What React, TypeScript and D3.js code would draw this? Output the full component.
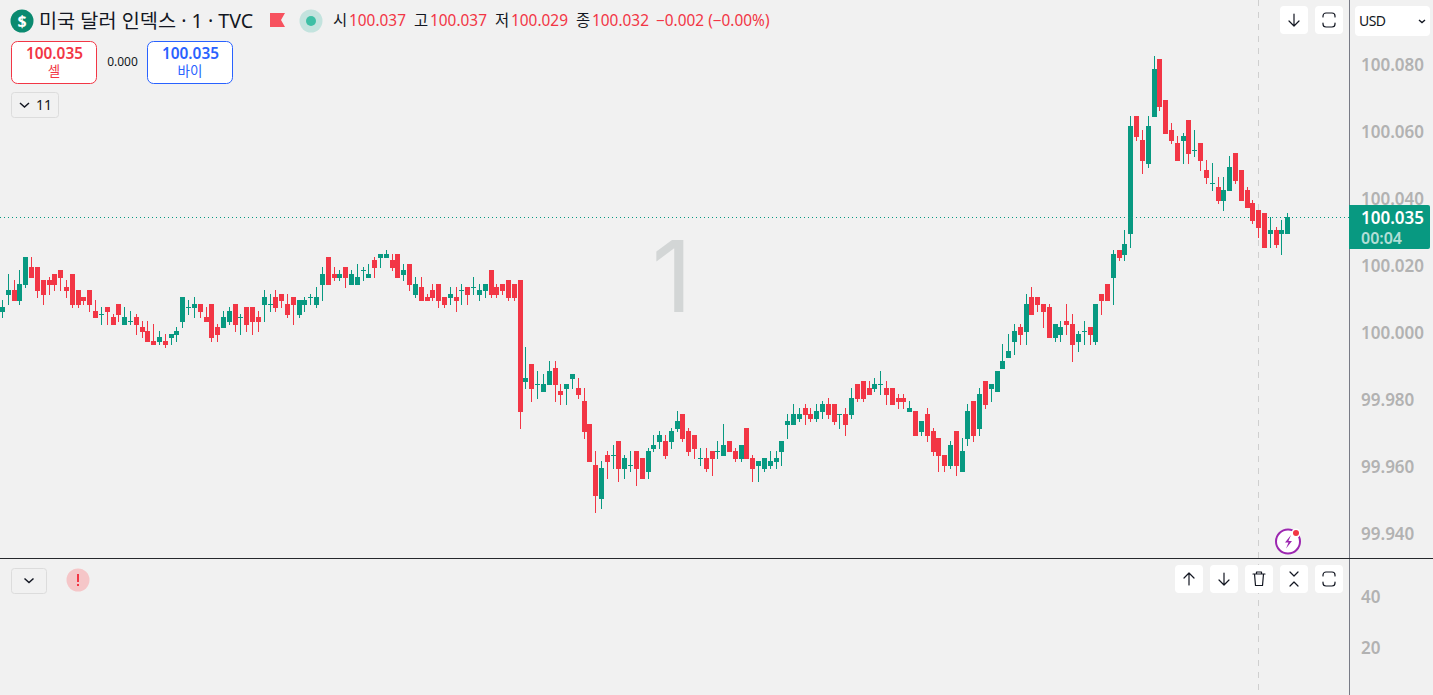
import * as d3 from 'd3';

const VW = 1433;
const VH = 695;
const PANE_RIGHT = 1349;
const PANE_BOTTOM = 558;

const BG = '#f1f1f1';
const UP = '#089981';
const DOWN = '#f23645';
const BLUE = '#2962ff';
const AXIS_TEXT = '#b2b2b2';
const INK = '#131722';
const FONT = "'Noto Sans', 'Noto Sans CJK KR', sans-serif";

// quotes in thousandths above 100 (so 35 = 100.035)
const OPENS = [
  7, 12, 13, 10, 15, 20, 20, 16, 16, 18, 19, 14, 18, 13, 11, 13, 7, 6, 8, 5,
  9, 3, 4, 5, 2, 1, -2, -2, -2, -1, 0, 4, 8, 8, 9, 5, 9, 2, 2, 4,
  9, 5, 8, 8, 5, 9, 9, 11, 12, 9, 11, 6, 9, 11, 9, 15, 23, 18, 17, 20,
  15, 15, 19, 17, 22, 23, 23, 22, 24, 18, 21, 12, 14, 11, 13, 15, 11, 11, 11, 13,
  14, 14, 12, 13, 19, 14, 15, 16, 15, 16, -14, -9, -15, -17, -15, -10, -17, -16, -13, -16,
  -20, -27, -39, -49, -36, -36, -32, -40, -39, -35, -37, -41, -34, -32, -32, -32, -28, -24, -29, -30,
  -37, -37, -35, -35, -36, -32, -35, -37, -28, -37, -39, -40, -39, -38, -35, -27, -27, -25, -22, -24,
  -25, -23, -21, -21, -24, -24, -24, -15, -14, -16, -16, -15, -16, -16, -19, -19, -23, -23, -29, -24,
  -29, -31, -36, -39, -29, -41, -31, -20, -28, -14, -16, -17, -10, -7, -2, 2, 1, 11, 11, 9,
  8, -1, 0, 4, 3, -2, 1, 2, -2, 12, 15, 17, 25, 24, 30, 65, 58, 51, 65, 82,
  70, 61, 57, 58, 64, 55, 57, 49, 45, 44, 40, 43, 54, 49, 43, 39, 37, 36, 30, 31,
  30, 30,
];
const HIGHS = [
  10, 18, 16, 19, 23, 23, 20, 16, 17, 18, 19, 16, 18, 13, 11, 13, 10, 8, 8, 6,
  9, 8, 7, 6, 4, 4, 3, 1, 0, 0, 2, 11, 10, 11, 9, 8, 9, 3, 7, 8,
  9, 6, 8, 8, 7, 13, 12, 13, 12, 12, 11, 10, 11, 12, 14, 20, 23, 20, 19, 20,
  19, 21, 20, 21, 23, 24, 25, 24, 24, 21, 21, 17, 17, 12, 15, 15, 11, 14, 14, 15,
  14, 17, 15, 15, 19, 15, 15, 16, 15, 16, -4, -9, -11, -12, -8, -8, -15, -15, -12, -13,
  -16, -27, -35, -38, -35, -33, -32, -36, -35, -35, -37, -34, -30, -29, -30, -28, -23, -24, -28, -30,
  -34, -34, -35, -32, -27, -32, -34, -33, -28, -36, -38, -37, -35, -35, -32, -24, -21, -22, -21, -22,
  -21, -20, -19, -21, -24, -22, -16, -15, -14, -14, -13, -11, -14, -16, -18, -18, -20, -23, -26, -22,
  -28, -31, -36, -32, -29, -31, -21, -20, -16, -14, -15, -11, -3, 0, 3, 3, 12, 14, 11, 9,
  9, 3, 4, 9, 6, 1, 4, 2, 9, 12, 15, 25, 25, 31, 65, 65, 61, 65, 83, 82,
  70, 63, 59, 60, 64, 61, 57, 52, 51, 47, 47, 53, 54, 49, 44, 40, 37, 36, 35, 32,
  34, 36,
];
const LOWS = [
  5, 9, 10, 9, 14, 17, 11, 9, 12, 13, 13, 11, 8, 8, 9, 7, 5, 3, 3, 3,
  4, 3, 3, 0, -1, -2, -3, -3, -4, -3, -2, 2, 6, 5, 5, 4, -2, -2, 2, 3,
  1, 0, 1, 0, 1, 4, 7, 7, 8, 5, 3, 5, 7, 9, 8, 10, 15, 16, 16, 14,
  15, 15, 16, 17, 17, 20, 23, 19, 17, 16, 13, 11, 10, 10, 10, 8, 8, 9, 7, 9,
  9, 12, 10, 11, 11, 11, 12, 10, 10, -28, -16, -20, -19, -17, -15, -20, -21, -21, -16, -19,
  -31, -38, -53, -52, -43, -40, -44, -43, -41, -45, -43, -43, -35, -34, -37, -34, -29, -32, -36, -37,
  -39, -41, -42, -37, -36, -35, -38, -38, -37, -44, -44, -41, -40, -40, -39, -31, -27, -26, -27, -26,
  -26, -25, -25, -27, -28, -30, -25, -20, -20, -18, -17, -18, -21, -21, -22, -22, -23, -30, -30, -32,
  -36, -41, -41, -40, -42, -41, -33, -32, -30, -22, -20, -17, -10, -7, -6, -3, -3, 6, 7, 2,
  -1, -2, -2, 0, -8, -5, -3, -3, -3, 6, 10, 9, 22, 22, 26, 58, 48, 50, 65, 67,
  60, 57, 52, 51, 51, 53, 49, 45, 43, 39, 37, 43, 45, 40, 38, 33, 29, 26, 26, 26,
  24, 30,
];
const CLOSES = [
  8, 13, 10, 15, 23, 17, 13, 12, 15, 15, 17, 13, 9, 9, 10, 9, 5, 6, 7, 3,
  6, 5, 4, 3, 1, -2, -3, -1, -3, 0, 1, 11, 8, 9, 7, 4, -1, 0, 5, 7,
  3, 5, 3, 4, 4, 11, 9, 8, 10, 6, 9, 10, 10, 11, 11, 18, 15, 17, 18, 17,
  18, 17, 19, 18, 20, 24, 24, 20, 17, 19, 15, 15, 10, 10, 11, 10, 9, 12, 10, 13,
  12, 14, 13, 15, 12, 12, 13, 11, 11, -23, -13, -16, -15, -15, -11, -15, -18, -15, -12, -18,
  -29, -38, -48, -40, -38, -36, -40, -37, -39, -40, -43, -35, -33, -30, -36, -29, -26, -31, -35, -34,
  -37, -40, -37, -35, -33, -35, -37, -33, -37, -40, -38, -37, -38, -37, -32, -26, -24, -24, -24, -25,
  -23, -21, -24, -26, -24, -27, -19, -19, -19, -18, -15, -15, -18, -21, -20, -20, -22, -30, -26, -30,
  -35, -36, -39, -33, -39, -35, -23, -30, -18, -21, -15, -11, -8, -5, 1, 0, 9, 6, 9, 7,
  -1, 3, 2, 3, -3, 0, 1, 0, 9, 10, 10, 24, 23, 27, 62, 59, 52, 62, 79, 68,
  60, 58, 52, 59, 54, 55, 52, 47, 45, 40, 43, 50, 46, 40, 38, 34, 32, 26, 31, 27,
  31, 35,
];

const PRICE_TICKS = [100.08, 100.06, 100.04, 100.02, 100.0, 99.98, 99.96, 99.94];
const LOWER_TICKS = [40, 20];
const LAST_PRICE = 100.035;
const HOVER_INDEX = 216;

const OHLC_LABELS = ['시', '고', '저', '종'];
const OHLC_VALUES = ['100.037', '100.037', '100.029', '100.032'];
const OHLC_LABEL_X = [333, 414, 495, 576];

const xScale = d3.scaleLinear().domain([0, OPENS.length - 1]).range([2, 1287.3]);
const yScale = d3.scaleLinear().domain([100, 100.08]).range([334, 66]);
const yLower = d3.scaleLinear().domain([20, 40]).range([648, 597]);
const fmtPrice = d3.format('.3f');

const price = (v: number) => 100 + v / 1000;
const px = (v: number) => Math.round(yScale(price(v)));

function IconButton({ x, y, children }: { x: number; y: number; children: any }) {
  return (
    <g transform={`translate(${x},${y})`}>
      <rect width={28} height={28} rx={4} fill="#fff" />
      <g fill="none" stroke={INK} strokeWidth={1.2} strokeLinecap="round" strokeLinejoin="round">
        {children}
      </g>
    </g>
  );
}

const ArrowDown = () => <path d="M14 8v12M9 15l5 5 5-5" />;
const ArrowUp = () => <path d="M14 20V8M9 13l5-5 5 5" />;
const Maximize = () => (
  <path d="M8 11V10a3 3 0 0 1 3-3h6a3 3 0 0 1 3 3v1M8 17v1a3 3 0 0 0 3 3h6a3 3 0 0 0 3-3v-1" />
);
const Trash = () => <path d="M8 9h12M11.5 9V7h5v2M9.5 9l1 11.5h7l1-11.5" />;
const Collapse = () => <path d="M10 7l4 4 4-4M10 21l4-4 4 4" />;

export default function App() {
  const lastY = yScale(LAST_PRICE);
  const hoverX = Math.round(xScale(HOVER_INDEX)) + 0.5;

  return (
    <svg
      width={VW}
      height={VH}
      viewBox={`0 0 ${VW} ${VH}`}
      style={{ position: 'fixed', left: 0, top: 0, display: 'block', background: BG }}
      fontFamily={FONT}
    >
      <text x={672} y={312} textAnchor="middle" fontFamily="Inter, sans-serif" fontSize={99} fill="#d3d6d6">1</text>

      <line x1={hoverX} x2={hoverX} y1={0} y2={VH} stroke="#cfcfcf" strokeDasharray="6 6" />
      <line x1={0} x2={PANE_RIGHT} y1={Math.round(lastY) + 0.5} y2={Math.round(lastY) + 0.5}
        stroke={UP} strokeDasharray="1 3" />

      <g shapeRendering="crispEdges">
        {OPENS.map((open, i) => {
          const close = CLOSES[i];
          const cx = Math.round(xScale(i));
          const color = close >= open ? UP : DOWN;
          const top = px(Math.max(open, close));
          const bottom = px(Math.min(open, close)) + 1;
          return (
            <g key={i} fill={color}>
              <rect x={cx} y={px(HIGHS[i])} width={1} height={px(LOWS[i]) + 1 - px(HIGHS[i])} />
              <rect x={cx - 2} y={top} width={5} height={bottom - top} />
            </g>
          );
        })}
      </g>

      {PRICE_TICKS.map(t => (
        <text key={t} x={1361} y={yScale(t) + 4.5} fontSize={17} fontWeight={600} fill={AXIS_TEXT}>
          {fmtPrice(t)}
        </text>
      ))}
      {LOWER_TICKS.map(t => (
        <text key={t} x={1361} y={yLower(t) + 6} fontSize={17} fontWeight={600} fill={AXIS_TEXT}>
          {t}
        </text>
      ))}

      <line x1={PANE_RIGHT + 0.5} x2={PANE_RIGHT + 0.5} y1={0} y2={VH} stroke="#787b86" />
      <line x1={0} x2={VW} y1={PANE_BOTTOM + 0.5} y2={PANE_BOTTOM + 0.5} stroke="#26282c" />

      <path d="M1349 205h79a2 2 0 0 1 2 2v40a2 2 0 0 1-2 2h-79z" fill={UP} />
      <text x={1361} y={223.5} fontSize={17} fontWeight={600} fill="#fff">
        {fmtPrice(LAST_PRICE)}
      </text>
      <text x={1361} y={244} fontSize={16} fontWeight={600} fill="#fff" fillOpacity={0.7}>00:04</text>

      {/* legend row */}
      <circle cx={22} cy={21} r={11.5} fill="#0b8a70" />
      <text x={22} y={27} textAnchor="middle" fontSize={16} fontWeight={700} fill="#fff">$</text>
      <text x={39} y={28} fontSize={19.7} fill={INK}>미국 달러 인덱스 · 1 · TVC</text>
      <path d="M270 13h15l-4 7 4 7h-15z" fill="#f7525f" />
      <circle cx={311} cy={21} r={11.5} fill="#c3e3de" />
      <circle cx={311} cy={21} r={5} fill="#3ebfa5" />
      {OHLC_LABELS.map((label, i) => (
        <g key={label} fontSize={15.4}>
          <text x={OHLC_LABEL_X[i]} y={26} fill={INK}>{label}</text>
          <text x={OHLC_LABEL_X[i] + 16} y={26} fill={DOWN}>{OHLC_VALUES[i]}</text>
        </g>
      ))}
      <text x={656} y={26} fontSize={15.4} fill={DOWN}>−0.002 (−0.00%)</text>

      {/* order buttons */}
      <rect x={11.5} y={41.5} width={85} height={42} rx={6} fill="#fff" stroke={DOWN} />
      <text x={54.5} y={59} textAnchor="middle" fontSize={15.4} fontWeight={600} fill={DOWN}>100.035</text>
      <text x={54} y={76} textAnchor="middle" fontSize={13.5} fill={DOWN}>셀</text>
      <text x={122.5} y={66} textAnchor="middle" fontSize={12} fill={INK}>0.000</text>
      <rect x={147.5} y={41.5} width={85} height={42} rx={6} fill="#fff" stroke={BLUE} />
      <text x={190.5} y={59} textAnchor="middle" fontSize={15.4} fontWeight={600} fill={BLUE}>100.035</text>
      <text x={190} y={76} textAnchor="middle" fontSize={13.5} fill={BLUE}>바이</text>

      <rect x={11.5} y={92.5} width={47} height={25} rx={3} fill={BG} stroke="#dcdcdc" />
      <path d="M20 103l4.5 4 4.5-4" fill="none" stroke={INK} strokeWidth={1.5} />
      <text x={36} y={110} fontSize={14} fill={INK}>11</text>

      {/* top right controls */}
      <IconButton x={1280} y={6}><ArrowDown /></IconButton>
      <IconButton x={1315} y={6}><Maximize /></IconButton>
      <rect x={1355} y={6} width={75} height={30} rx={4} fill="#fff" />
      <text x={1359} y={26} fontSize={14} letterSpacing={-0.6} fill={INK}>USD</text>
      <path d="M1419 20l3 2.5 3-2.5" fill="none" stroke={INK} strokeWidth={1.4} />

      {/* lightning badge */}
      <circle cx={1288} cy={541.5} r={12} fill="#fff" stroke="#9c27b0" strokeWidth={2} />
      <path d="M1291 535l-6 7.5h3.5l-2.5 6 6-7.5h-3.5z" fill="#9c27b0" />
      <circle cx={1296} cy={533} r={4.5} fill="#fff" />
      <circle cx={1296} cy={533} r={3} fill={DOWN} />

      {/* lower pane */}
      <rect x={11.5} y={568.5} width={35} height={25} rx={3} fill={BG} stroke="#dcdcdc" />
      <path d="M24.5 578.5l4.5 4 4.5-4" fill="none" stroke={INK} strokeWidth={1.5} />
      <circle cx={78} cy={580} r={11.5} fill="#f5c6c8" />
      <rect x={77} y={574} width={2} height={8} fill={DOWN} />
      <rect x={77} y={584} width={2} height={2} fill={DOWN} />
      <IconButton x={1175} y={565}><ArrowUp /></IconButton>
      <IconButton x={1210} y={565}><ArrowDown /></IconButton>
      <IconButton x={1245} y={565}><Trash /></IconButton>
      <IconButton x={1280} y={565}><Collapse /></IconButton>
      <IconButton x={1315} y={565}><Maximize /></IconButton>
    </svg>
  );
}
